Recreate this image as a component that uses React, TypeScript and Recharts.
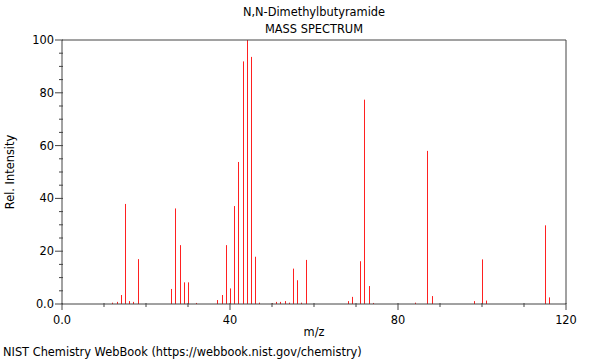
import React from "react";
import { Bar, BarChart, ReferenceLine, XAxis, YAxis } from "recharts";

const mzValues = [
  12, 13, 14, 15, 16, 17, 18, 26, 27, 28, 29, 30, 32, 37, 38, 39, 40, 41, 42,
  43, 44, 45, 46, 47, 50, 51, 52, 53, 54, 55, 56, 57, 58, 68, 69, 71, 72, 73,
  74, 84, 87, 88, 98, 100, 101, 115, 116,
];
const relIntensity = [
  0.5, 0.8, 3.4, 37.9, 1.1, 0.8, 17.0, 5.7, 36.2, 22.3, 8.2, 8.2, 0.4, 1.5,
  3.4, 22.3, 5.9, 37.1, 53.8, 91.9, 100, 93.6, 17.9, 0.5, 0.3, 0.8, 0.8, 1.1,
  0.5, 13.4, 9.0, 0.5, 16.7, 1.1, 2.7, 16.2, 77.4, 6.8, 0.4, 0.5, 58.0, 3.0,
  1.1, 16.9, 1.3, 29.8, 2.5,
];
const xTicks = [0, 10, 20, 30, 40, 50, 60, 70, 80, 90, 100, 110, 120];
const yTicks = [0, 5, 10, 15, 20, 25, 30, 35, 40, 45, 50, 55, 60, 65, 70, 75, 80, 85, 90, 95, 100];

const title = "N,N-Dimethylbutyramide";
const subtitle = "MASS SPECTRUM";
const credit = "NIST Chemistry WebBook (https://webbook.nist.gov/chemistry)";

const data = mzValues.map((mz, i) => ({ mz, rel: relIntensity[i] }));

const font = "'DejaVu Sans', sans-serif";
const fs = 11.4;
const axisColor = "#444";

const XTick = (props: any) => {
  const { x, y, payload } = props;
  const major = payload.value % 40 === 0;
  const label = payload.value === 0 ? "0.0" : String(payload.value);
  return (
    <g>
      <line x1={x} x2={x} y1={y - 1} y2={y + (major ? 6 : 3)} stroke={axisColor} />
      {major && (
        <text x={x} y={y + 20} textAnchor="middle" fontSize={fs} fontFamily={font} fill="#000">
          {label}
        </text>
      )}
    </g>
  );
};

const YTick = (props: any) => {
  const { x, y, payload } = props;
  const major = payload.value % 20 === 0;
  const label = payload.value === 0 ? "0.0" : String(payload.value);
  return (
    <g>
      <line x1={x + 1} x2={x - (major ? 7 : 3)} y1={y} y2={y} stroke={axisColor} />
      {major && (
        <text x={x - 8} y={y + 4} textAnchor="end" fontSize={fs} fontFamily={font} fill="#000">
          {label}
        </text>
      )}
    </g>
  );
};

const Stick = (props: any) => {
  const { x, y, width, height } = props;
  if (!height || height <= 0) return null;
  const cx = Math.floor(x + width / 2);
  return <rect x={cx} y={y} width={1} height={height} fill="#ff2020" />;
};

export default function App() {
  return (
    <div style={{ position: "absolute", left: 0, top: 0, width: 600, height: 360, background: "#fff" }}>
      <BarChart
        width={600}
        height={360}
        data={data}
        margin={{ top: 40, right: 34, left: 12, bottom: 0 }}
        barSize={1}
      >
        <XAxis
          dataKey="mz"
          type="number"
          domain={[0, 120]}
          ticks={xTicks}
          interval={0}
          height={56}
          tickSize={0}
          tickMargin={0}
          tickLine={false}
          axisLine={{ stroke: axisColor }}
          tick={<XTick />}
        />
        <YAxis
          type="number"
          domain={[0, 100]}
          ticks={yTicks}
          interval={0}
          width={50}
          tickSize={0}
          tickMargin={0}
          tickLine={false}
          axisLine={{ stroke: axisColor }}
          tick={<YTick />}
        />
        <ReferenceLine y={100} stroke={axisColor} ifOverflow="extendDomain" />
        <ReferenceLine x={120} stroke={axisColor} ifOverflow="extendDomain" />
        <Bar dataKey="rel" isAnimationActive={false} shape={<Stick />} />
      </BarChart>
      <div style={{ position: "absolute", left: 0, width: 628, top: 5, textAlign: "center", fontFamily: font, fontSize: fs }}>
        {title}
      </div>
      <div style={{ position: "absolute", left: 0, width: 628, top: 22, textAlign: "center", fontFamily: font, fontSize: fs }}>
        {subtitle}
      </div>
      <div style={{ position: "absolute", left: 0, width: 628, top: 325, textAlign: "center", fontFamily: font, fontSize: fs }}>
        m/z
      </div>
      <div
        style={{
          position: "absolute",
          left: 10,
          top: 172,
          transform: "translate(-50%, -50%) rotate(-90deg)",
          fontFamily: font,
          fontSize: fs,
          whiteSpace: "nowrap",
        }}
      >
        Rel. Intensity
      </div>
      <div style={{ position: "absolute", left: 3, top: 345, fontFamily: font, fontSize: fs, whiteSpace: "nowrap" }}>
        {credit}
      </div>
    </div>
  );
}
